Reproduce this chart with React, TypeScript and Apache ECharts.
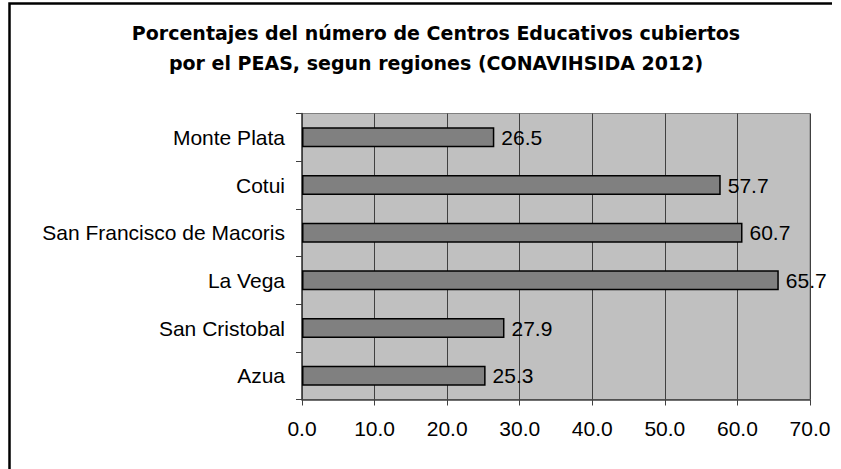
import React, { useEffect, useRef } from "react";
import * as echarts from "echarts";

const categories = ["Azua", "San Cristobal", "La Vega", "San Francisco de Macoris", "Cotui", "Monte Plata"];
const values = [25.3, 27.9, 65.7, 60.7, 57.7, 26.5];
const titleLines = [
  "Porcentajes del número de Centros Educativos cubiertos",
  "por el PEAS, segun regiones (CONAVIHSIDA 2012)",
];

export default function App() {
  const ref = useRef<HTMLDivElement>(null);
  useEffect(() => {
    if (!ref.current) return;
    const chart = echarts.init(ref.current, null, { renderer: "svg" });
    const font = "'Liberation Sans', Arial, sans-serif";
    chart.setOption({
      animation: false,
      backgroundColor: "#ffffff",
      title: {
        text: titleLines.join("\n"),
        left: 431,
        top: 13,
        textAlign: "center",
        textStyle: {
          fontFamily: "'DejaVu Sans', sans-serif",
          fontSize: 19,
          fontWeight: "bold",
          color: "#000",
          lineHeight: 30,
        },
      },
      graphic: [
        {
          type: "polyline",
          shape: { points: [[9.5, 469], [9.5, 3.5], [832, 3.5]] },
          style: { stroke: "#000", lineWidth: 2.5, fill: "none" },
          silent: true,
        },
      ],
      grid: {
        left: 302,
        top: 113.5,
        right: 31,
        bottom: 69.5,
        containLabel: false,
        show: true,
        backgroundColor: "#c0c0c0",
        borderColor: "#808080",
        borderWidth: 1,
      },
      xAxis: {
        type: "value",
        min: 0,
        max: 70,
        interval: 10,
        axisLine: { show: true, lineStyle: { color: "#404040", width: 1.5 } },
        axisTick: { show: true, length: 6, lineStyle: { color: "#404040", width: 1 } },
        axisLabel: {
          fontFamily: font,
          fontSize: 21,
          color: "#000",
          margin: 18,
          formatter: (v: number) => v.toFixed(1),
        },
        splitLine: { show: true, lineStyle: { color: "#404040", width: 1 } },
      },
      yAxis: {
        type: "category",
        data: categories,
        axisLine: { show: true, lineStyle: { color: "#404040", width: 1.5 } },
        axisTick: { show: true, length: 6, lineStyle: { color: "#404040", width: 1 } },
        axisLabel: {
          fontFamily: font,
          fontSize: 21,
          color: "#000",
          margin: 17,
        },
        splitLine: { show: false },
      },
      series: [
        {
          type: "bar",
          data: values,
          barWidth: 20,
          itemStyle: { color: "#808080", borderColor: "#000", borderWidth: 1.5 },
          label: {
            show: true,
            position: "right",
            distance: 7,
            fontFamily: font,
            fontSize: 21,
            color: "#000",
            formatter: (p: any) => Number(p.value).toFixed(1),
          },
        },
      ],
    });
    return () => chart.dispose();
  }, []);
  return (
    <div
      ref={ref}
      style={{ position: "absolute", left: 0, top: 0, width: 841, height: 469 }}
    />
  );
}
